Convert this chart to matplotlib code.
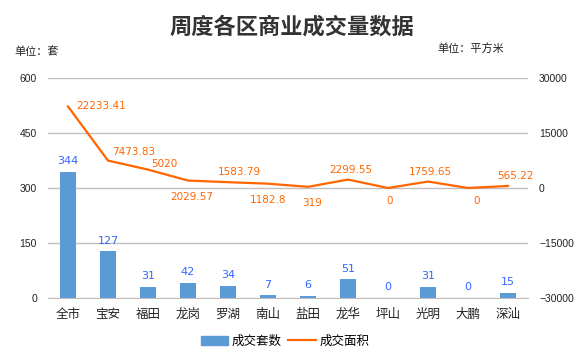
import matplotlib.pyplot as plt
import numpy as np

plt.rcParams['font.family'] = ['Noto Sans CJK SC', 'DejaVu Sans']

districts = ["全市", "宝安", "福田", "龙岗", "罗湖", "南山", "盐田", "龙华", "坪山", "光明", "大鹏", "深汕"]
units = [344, 127, 31, 42, 34, 7, 6, 51, 0, 31, 0, 15]
area = [22233.41, 7473.83, 5020, 2029.57, 1583.79, 1182.8, 319, 2299.55, 0, 1759.65, 0, 565.22]
area_labels = ["22233.41", "7473.83", "5020", "2029.57", "1583.79", "1182.8",
               "319", "2299.55", "0", "1759.65", "0", "565.22"]

# label offsets for the line (points), and horizontal alignment
area_offsets = [(6, 0), (3, 6), (2, 4), (3, -12), (8, 7), (0, -12),
                (3, -12), (2, 7), (1, -9), (2, 7), (6, -9), (5, 7)]
area_ha = ["left", "left", "left", "center", "center", "center",
           "center", "center", "center", "center", "center", "center"]

bar_color = "#5B9BD5"
line_color = "#FF6600"
num_font = ["Liberation Sans", "DejaVu Sans"]

fig = plt.figure(figsize=(5.84, 3.57), dpi=100)
ax = fig.add_axes([48 / 584, 1 - 298 / 357, 480 / 584, 220 / 357])
ax2 = ax.twinx()

x = np.arange(len(districts))
ax.bar(x, units, width=0.4, color=bar_color, zorder=2)
for xi, v in zip(x, units):
    ax.annotate(str(v), (xi, v), xytext=(0, 4), textcoords="offset points",
                ha="center", va="bottom", color="#3366FF", fontsize=8, family="DejaVu Sans")

ax.set_ylim(0, 600)
ax.set_yticks([0, 150, 300, 450, 600])
ax.set_xlim(-0.5, len(districts) - 0.5)
ax.set_xticks(x)
ax.set_xticklabels(districts, fontsize=9)
ax.yaxis.grid(True, color="#C0C0C0", linewidth=1)
ax.set_axisbelow(True)

ax2.plot(x, area, color=line_color, linewidth=1.6, zorder=3)
ax2.set_ylim(-30000, 30000)
ax2.set_yticks([-30000, -15000, 0, 15000, 30000])
for xi, v, lab, off, ha in zip(x, area, area_labels, area_offsets, area_ha):
    ax2.annotate(lab, (xi, v), xytext=off, textcoords="offset points", ha=ha, va="center",
                 color=line_color, fontsize=7.5, family="DejaVu Sans")

for a in (ax, ax2):
    for s in ("top", "left", "right"):
        a.spines[s].set_visible(False)
    a.tick_params(length=0, colors="#222222")
ax.spines["bottom"].set_color("#C0C0C0")
ax2.spines["bottom"].set_visible(False)
ax.tick_params(axis="x", labelsize=9, pad=7)
for a in (ax, ax2):
    a.tick_params(axis="y", pad=8)
    for t in a.get_yticklabels():
        t.set_family(num_font)
        t.set_fontsize(7.5)

fig.text(0.5, 1 - 27 / 357, "周度各区商业成交量数据", ha="center", va="center",
         fontsize=16, fontweight="bold", color="#333333")
fig.text(14 / 584, 1 - 52 / 357, "单位：套", ha="left", va="center", fontsize=8, color="#222222")
fig.text(504 / 584, 1 - 48 / 357, "单位：平方米", ha="right", va="center", fontsize=8, color="#222222")

h1 = plt.Rectangle((0, 0), 1, 1, color=bar_color)
h2 = plt.Line2D([], [], color=line_color, linewidth=1.6)
fig.legend([h1, h2], ["成交套数", "成交面积"], loc="center", bbox_to_anchor=(285 / 584, 1 - 341 / 357),
           ncol=2, frameon=False, fontsize=9, handlelength=2.2, columnspacing=0.5,
           handletextpad=0.3)

fig.savefig("out.png", dpi=100)
